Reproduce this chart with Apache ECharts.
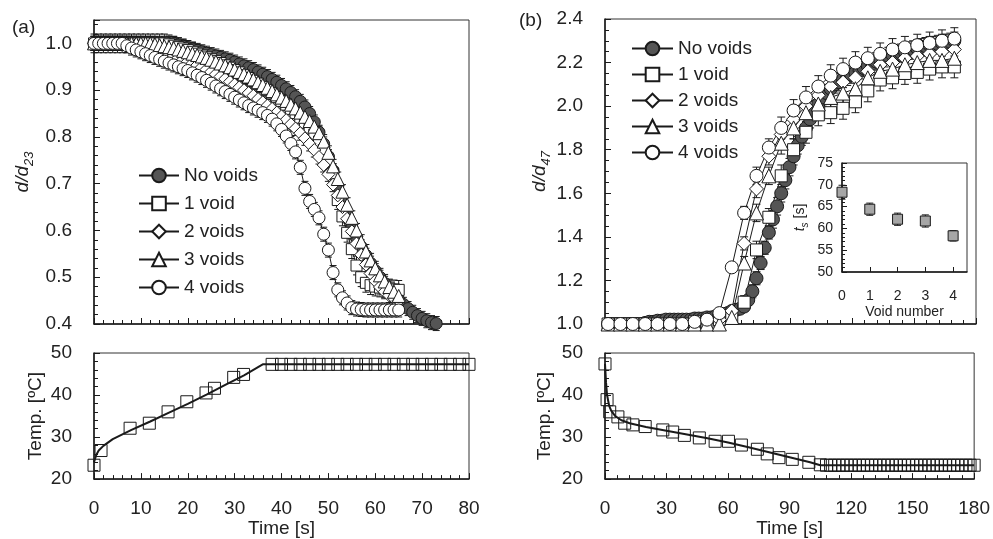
<!DOCTYPE html>
<html>
<head>
<meta charset="utf-8">
<script src="https://cdn.jsdelivr.net/npm/echarts@6/dist/echarts.min.js"></script>
<style>html,body{margin:0;padding:0;background:#fff}#c{width:993px;height:539px}</style>
</head>
<body>
<div id="c"></div>
<script>
// ---------------- DATA ----------------
// Panel (a): d/d23 vs time (1 s steps)
const tA = [0,1,2,3,4,5,6,7,8,9,10,11,12,13,14,15,16,17,18,19,20,21,22,23,24,25,26,27,28,29,30,31,32,33,34,35,36,37,38,39,40,41,42,43,44,45,46,47,48,49,50,51,52,53,54,55,56,57,58,59,60,61,62,63,64,65,66,67,68,69,70,71,72,73];
const noVoidsA = [1.00,1.00,1.00,1.00,1.00,1.00,1.00,1.00,1.00,1.00,
 1.00,1.00,1.00,1.00,1.00,1.00,1.00,1.00,0.997,0.994,
 0.991,0.988,0.985,0.982,0.979,0.976,0.973,0.970,0.967,0.964,
 0.960,0.956,0.952,0.948,0.944,0.939,0.934,0.929,0.923,0.917,
 0.910,0.903,0.895,0.886,0.876,0.864,0.850,0.832,0.810,0.785,
 0.758,0.728,0.695,0.660,0.632,0.607,0.585,0.565,0.547,0.530,
 0.514,0.500,0.487,0.475,0.463,0.452,0.442,0.433,0.425,0.418,
 0.412,0.407,0.403,0.401];
const oneVoidA = [1.00,1.00,1.00,1.00,1.00,1.00,1.00,1.00,1.00,1.00,
 1.00,1.00,1.00,1.00,1.00,1.00,0.998,0.995,0.992,0.989,
 0.986,0.982,0.978,0.974,0.970,0.966,0.962,0.958,0.953,0.948,
 0.943,0.938,0.932,0.926,0.920,0.914,0.907,0.900,0.893,0.885,
 0.877,0.869,0.860,0.851,0.841,0.830,0.818,0.805,0.790,0.772,
 0.750,0.722,0.665,0.630,0.595,0.560,0.525,0.500,0.488,0.483,
 0.480,0.478,0.477,0.476,0.474,0.473];
const twoVoidsA = [1.00,1.00,1.00,1.00,1.00,1.00,1.00,1.00,1.00,0.998,
 0.996,0.993,0.990,0.987,0.984,0.981,0.977,0.973,0.969,0.965,
 0.961,0.957,0.953,0.949,0.944,0.939,0.934,0.929,0.924,0.918,
 0.912,0.906,0.900,0.894,0.888,0.881,0.874,0.867,0.860,0.852,
 0.844,0.836,0.827,0.818,0.808,0.797,0.785,0.772,0.757,0.740,
 0.720,0.698,0.675,0.650,0.625,0.598,0.572,0.548,0.527,0.508,
 0.492,0.479,0.469,0.461,0.455,0.450];
const threeVoidsA = [1.00,1.00,1.00,1.00,1.00,1.00,1.00,1.00,1.00,1.00,
 1.00,1.00,1.00,0.998,0.996,0.994,0.992,0.990,0.987,0.984,
 0.981,0.978,0.975,0.972,0.969,0.965,0.961,0.957,0.953,0.949,
 0.944,0.939,0.934,0.929,0.923,0.917,0.911,0.905,0.898,0.891,
 0.884,0.877,0.869,0.861,0.852,0.843,0.834,0.822,0.808,0.790,
 0.766,0.737,0.710,0.683,0.655,0.627,0.600,0.576,0.555,0.536,
 0.519,0.504,0.491,0.479,0.469,0.460];
const fourVoidsA = [1.00,1.00,1.00,1.00,1.00,1.00,1.00,0.995,0.990,0.986,
 0.982,0.978,0.974,0.970,0.966,0.962,0.958,0.954,0.950,0.946,
 0.942,0.937,0.932,0.927,0.921,0.915,0.909,0.903,0.897,0.891,
 0.885,0.879,0.873,0.867,0.862,0.857,0.852,0.846,0.838,0.828,
 0.816,0.802,0.786,0.768,0.735,0.690,0.662,0.645,0.627,0.592,
 0.558,0.510,0.473,0.456,0.445,0.435,0.432,0.431,0.430,0.430,
 0.430,0.430,0.430,0.430,0.430,0.430];
const errA = [0.015, 0.02, 0.015, 0.015, 0.015];

// Panel (a) temperature
const tempTA = [0,1.5,7.7,11.8,15.8,19.8,23.9,25.7,29.8,31.9,38,40,42,44,46,48,50,52,54,56,58,60,62,64,66,68,70,72,74,76,78,80];
const tempA = [23.3,26.8,32.1,33.3,36.0,38.4,40.5,41.6,44.2,44.9,47.3,47.3,47.3,47.3,47.3,47.3,47.3,47.3,47.3,47.3,47.3,47.3,47.3,47.3,47.3,47.3,47.3,47.3,47.3,47.3,47.3,47.3];
const fitTA = [0,0.5,1,2,4,8,12,16,20,24,28,32,36,80];
const fitA = [24.0,25.8,26.8,27.9,29.5,31.7,33.7,35.8,37.9,40.1,42.4,44.7,47.3,47.3];

// Panel (b): d/d47 vs time
const tB = [1.5,7.5,13.5,19.5,25.5,31.5,37.5,43.5,49.5,55.5,61.5,67.5,73.5,79.5,85.5,91.5,97.5,103.5,109.5,115.5,121.5,127.5,133.5,139.5,145.5,151.5,157.5,163.5,169.5];
const tB2 = [1.5,3.5,5.5,7.5,9.5,11.5,13.5,15.5,17.5,19.5,21.5,23.5,25.5,27.5,29.5,31.5,33.5,35.5,37.5,39.5,41.5,43.5,45.5,47.5,49.5,51.5,53.5,55.5,57.5,59.5,61.5,63.5,65.5,67.5,69.5,71.5,73.5,75.5,77.5,79.5,81.5,83.5,85.5,87.5,89.5,91.5,93.5,95.5,97.5,99.5,101.5,103.5,105.5,107.5,109.5,111.5,113.5,115.5,117.5,119.5,121.5,123.5,125.5,127.5,129.5,131.5,133.5,135.5,137.5,139.5,141.5,143.5,145.5,147.5,149.5,151.5,153.5,155.5,157.5,159.5,161.5,163.5,165.5,167.5,169.5];
const noVoidsB = [1.00,1.00,1.00,1.00,1.00,1.00,1.00,1.00,1.00,
 1.005,1.01,1.01,1.015,1.015,1.02,1.02,1.02,1.02,1.02,
 1.02,1.02,1.025,1.025,1.025,1.03,1.03,1.035,1.04,1.045,
 1.05,1.06,1.065,1.07,1.08,1.11,1.15,1.21,1.28,1.35,
 1.42,1.48,1.54,1.60,1.66,1.72,1.77,1.82,1.86,1.90,
 1.94,1.98,2.01,2.04,2.06,2.08,2.10,2.11,2.125,2.135,
 2.145,2.155,2.165,2.175,2.185,2.195,2.205,2.215,2.22,2.23,
 2.235,2.24,2.245,2.25,2.255,2.26,2.265,2.27,2.275,2.28,
 2.28,2.285,2.29,2.29,2.295,2.30];
const oneVoidB = [1.00,1.00,1.00,1.00,1.00,1.00,1.00,1.01,1.01,1.02,1.03,1.10,1.34,1.49,1.68,1.80,1.88,1.96,1.97,1.99,2.02,2.07,2.12,2.13,2.15,2.155,2.17,2.18,2.18];
const twoVoidsB = [1.00,1.00,1.00,1.00,1.00,1.00,1.00,1.00,1.01,1.02,1.06,1.37,1.62,1.77,1.87,1.94,2.00,2.05,2.09,2.11,2.13,2.16,2.19,2.20,2.22,2.23,2.24,2.25,2.26];
const threeVoidsB = [1.00,1.00,1.00,1.00,1.00,1.00,1.00,1.00,1.00,1.00,1.03,1.28,1.51,1.68,1.83,1.90,1.97,2.01,2.04,2.06,2.08,2.13,2.16,2.17,2.19,2.20,2.21,2.21,2.22];
const fourVoidsB = [1.00,1.00,1.00,1.00,1.00,1.00,1.00,1.01,1.02,1.05,1.26,1.51,1.68,1.81,1.90,1.98,2.04,2.09,2.14,2.17,2.20,2.22,2.24,2.26,2.27,2.28,2.29,2.30,2.31];
const errB2 = [0.01,0.01,0.01,0.01,0.01,0.01,0.01,0.01,0.01,0.01,
 0.01,0.01,0.01,0.01,0.01,0.01,0.01,0.01,0.01,0.01,
 0.01,0.01,0.01,0.01,0.01,0.01,0.01,0.01,0.01,0.01,
 0.02,0.02,0.02,0.02,0.02,0.03,0.03,0.03,0.03,0.03,
 0.04,0.04,0.04,0.04,0.04,0.04,0.04,0.04,0.04,0.04,
 0.04,0.04,0.04,0.04,0.04,0.04,0.04,0.04,0.04,0.04,
 0.04,0.04,0.04,0.04,0.04,0.04,0.04,0.04,0.04,0.04,
 0.04,0.04,0.04,0.04,0.04,0.04,0.04,0.04,0.04,0.04,
 0.04,0.04,0.04,0.04,0.04];
const errB6 = [0.01,0.01,0.01,0.01,0.01,0.01,0.01,0.01,0.01,0.01,0.015,0.03,0.04,0.04,0.05,0.05,0.05,0.05,0.05,0.05,0.05,0.05,0.05,0.05,0.05,0.05,0.05,0.05,0.05];

// Panel (b) temperature
const tempTB = [0,1,2.3,6.3,9.6,13.6,19.6,28.2,33,38.7,46,53.7,60.2,66.5,74.3,79.1,84.8,91.3,99.4,105,108,110,112,114,116,118,120,122,124,126,128,130,132,134,136,138,140,142,144,146,148,150,152,154,156,158,160,162,164,166,168,170,172,174,176,178,180];
const tempB = [47.4,38.9,36.0,34.8,33.3,32.9,32.5,31.7,31.2,30.4,29.8,29.0,29.0,28.1,27.1,26.0,25.1,24.7,24.0,23.4,23.3,23.3,23.3,23.3,23.3,23.3,23.3,23.3,23.3,23.3,23.3,23.3,23.3,23.3,23.3,23.3,23.3,23.3,23.3,23.3,23.3,23.3,23.3,23.3,23.3,23.3,23.3,23.3,23.3,23.3,23.3,23.3,23.3,23.3,23.3,23.3,23.3];
const fitTB = [0,0.5,1,2,3,5,8,12,20,30,40,50,60,70,80,90,100,105,180];
const fitB = [47.4,43.0,40.0,37.5,36.3,35.0,34.0,33.3,32.4,31.5,30.6,29.7,28.7,27.6,26.4,25.2,24.0,23.3,23.3];

// Inset: onset time vs void number
const voidNum = [0,1,2,3,4];
const tsVals = [68.3,64.4,62.1,61.7,58.3];
const tsErr = [1.6,1.4,1.4,1.4,1.2];

const seriesNames = ['No voids','1 void','2 voids','3 voids','4 voids'];

// ---------------- STYLE / BUILD ----------------
const FONT = '"Liberation Sans", Arial, Helvetica, sans-serif';
const INK = '#1a1a1a';
const TXT = '#222';
const symbols = ['circle','rect','diamond','triangle','circle'];
const fills = ['#555555','#ffffff','#ffffff','#ffffff','#ffffff'];
const sizesA = [12,11,13,13,12];
const sizesB = [13,12,14,14,13];

function zip(ts, vs) { return vs.map((v, i) => [ts[i], v]); }
function zipErr(ts, vs, es) { return vs.map((v, i) => [ts[i], v, Array.isArray(es) ? es[i] : es]); }

function errRender(capW, color) {
  return function (params, api) {
    const x = api.value(0), y = api.value(1), e = api.value(2);
    const p1 = api.coord([x, y - e]), p2 = api.coord([x, y + e]);
    const st = { stroke: color || INK, lineWidth: 1 };
    return { type: 'group', children: [
      { type: 'line', shape: { x1: p1[0], y1: p1[1], x2: p2[0], y2: p2[1] }, style: st },
      { type: 'line', shape: { x1: p1[0] - capW / 2, y1: p1[1], x2: p1[0] + capW / 2, y2: p1[1] }, style: st },
      { type: 'line', shape: { x1: p2[0] - capW / 2, y1: p2[1], x2: p2[0] + capW / 2, y2: p2[1] }, style: st }
    ]};
  };
}

let errCount = 0;
function errSeries(data, gi, capW) {
  errCount += 1;
  return { type: 'custom', name: 'err' + gi + '_' + errCount, xAxisIndex: gi, yAxisIndex: gi,
    coordinateSystem: 'cartesian2d', encode: { x: 0, y: 1 }, renderItem: errRender(capW),
    data: data, silent: true, clip: false, z: 2 };
}
function lineSeries(name, data, gi, sym, size, fill, lw) {
  return { type: 'line', name: name, xAxisIndex: gi, yAxisIndex: gi, data: data,
    symbol: sym, symbolSize: size, showSymbol: true, clip: false, z: 3,
    lineStyle: { color: INK, width: lw || 1 },
    itemStyle: { color: fill, borderColor: INK, borderWidth: 1 },
    emphasis: { disabled: true } };
}

const series = [];
const A = [noVoidsA, oneVoidA, twoVoidsA, threeVoidsA, fourVoidsA];
A.forEach((vals, k) => {
  series.push(errSeries(zipErr(tA, vals, errA[k]), 0, 7));
  series.push(lineSeries(seriesNames[k], zip(tA, vals), 0, symbols[k], sizesA[k], fills[k]));
});
series.push(errSeries(zipErr(tB2, noVoidsB, errB2), 2, 8));
series.push(lineSeries(seriesNames[0], zip(tB2, noVoidsB), 2, symbols[0], sizesB[0], fills[0]));
[oneVoidB, twoVoidsB, threeVoidsB, fourVoidsB].forEach((vals, j) => {
  const k = j + 1;
  series.push(errSeries(zipErr(tB, vals, errB6), 2, 8));
  series.push(lineSeries(seriesNames[k], zip(tB, vals), 2, symbols[k], sizesB[k], fills[k]));
});
// temperature
series.push({ type: 'line', name: 'fitA', xAxisIndex: 1, yAxisIndex: 1, data: zip(fitTA, fitA), showSymbol: false, symbol: 'none', clip: false, lineStyle: { color: INK, width: 2 }, z: 4 });
series.push({ type: 'line', name: 'tempA', xAxisIndex: 1, yAxisIndex: 1, data: zip(tempTA, tempA), symbol: 'rect', symbolSize: 12, clip: false, lineStyle: { width: 0, opacity: 0 }, itemStyle: { color: 'rgba(255,255,255,0)', borderColor: INK, borderWidth: 1 }, z: 3 });
series.push({ type: 'line', name: 'fitB', xAxisIndex: 3, yAxisIndex: 3, data: zip(fitTB, fitB), showSymbol: false, symbol: 'none', clip: false, lineStyle: { color: INK, width: 2 }, z: 4 });
series.push({ type: 'line', name: 'tempB', xAxisIndex: 3, yAxisIndex: 3, data: zip(tempTB, tempB), symbol: 'rect', symbolSize: 12, clip: false, lineStyle: { width: 0, opacity: 0 }, itemStyle: { color: 'rgba(255,255,255,0)', borderColor: INK, borderWidth: 1 }, z: 3 });
// inset
series.push({ type: 'custom', name: 'insetErr', xAxisIndex: 4, yAxisIndex: 4, coordinateSystem: 'cartesian2d', encode: { x: 0, y: 1 }, renderItem: errRender(7), data: zipErr(voidNum, tsVals, tsErr), silent: true, clip: false, z: 12 });
series.push({ type: 'scatter', name: 'inset', xAxisIndex: 4, yAxisIndex: 4, data: zip(voidNum, tsVals), symbol: 'rect', symbolSize: 10, clip: false, itemStyle: { color: '#a6a6a6', borderColor: INK, borderWidth: 1, opacity: 1 }, z: 13 });

function xAx(gi, min, max, interval, split, showLabel, name, extra) {
  return Object.assign({
    gridIndex: gi, type: 'value', min: min, max: max, interval: interval,
    axisLine: { onZero: false, lineStyle: { color: INK, width: 1.5 } },
    axisTick: { inside: true, length: 6, lineStyle: { color: INK, width: 1 } },
    minorTick: { show: split > 0, splitNumber: split || 5, length: 4, lineStyle: { color: INK, width: 1 } },
    splitLine: { show: false }, minorSplitLine: { show: false },
    axisLabel: { show: showLabel, margin: 20, fontSize: 19, fontFamily: FONT, color: TXT },
    name: name || '', nameLocation: 'middle', nameGap: 36,
    nameTextStyle: { fontSize: 19, fontFamily: FONT, color: TXT }
  }, extra || {});
}
function yAx(gi, min, max, interval, split, fmt, name, gap, rich, extra) {
  return Object.assign({
    gridIndex: gi, type: 'value', min: min, max: max, interval: interval,
    axisLine: { onZero: false, lineStyle: { color: INK, width: 1.5 } },
    axisTick: { inside: true, length: 6, lineStyle: { color: INK, width: 1 } },
    minorTick: { show: true, splitNumber: split, length: 4, lineStyle: { color: INK, width: 1 } },
    splitLine: { show: false }, minorSplitLine: { show: false },
    axisLabel: { margin: 22, fontSize: 19, fontFamily: FONT, color: TXT, formatter: fmt, showMaxLabel: true },
    name: name, nameLocation: 'middle', nameRotate: 90, nameGap: gap,
    nameTextStyle: Object.assign({ fontSize: 19, fontFamily: FONT, color: TXT }, rich ? { rich: rich } : {})
  }, extra || {});
}

const richD = {
  a: { fontSize: 19, fontStyle: 'italic', fontFamily: FONT, color: TXT, lineHeight: 26 },
  b: { fontSize: 13, fontStyle: 'italic', fontFamily: FONT, color: TXT, lineHeight: 13, verticalAlign: 'bottom' }
};
const richT = {
  a: { fontSize: 14, fontStyle: 'italic', fontFamily: FONT, color: TXT, lineHeight: 20 },
  b: { fontSize: 10, fontStyle: 'italic', fontFamily: FONT, color: TXT, lineHeight: 10, verticalAlign: 'bottom' },
  c: { fontSize: 14, fontFamily: FONT, color: TXT, lineHeight: 20 }
};
const f1 = v => v.toFixed(1);
const f0 = v => String(Math.round(v));

const gridBase = { show: true, borderColor: '#333', borderWidth: 1, backgroundColor: 'rgba(0,0,0,0)', containLabel: false };

const option = {
  animation: false,
  backgroundColor: '#fff',
  textStyle: { fontFamily: FONT },
  grid: [
    Object.assign({ left: 94, top: 20, width: 375, height: 304 }, gridBase),
    Object.assign({ left: 94, top: 353, width: 375, height: 129 }, gridBase),
    Object.assign({ left: 605, top: 19, width: 371, height: 305 }, gridBase),
    Object.assign({ left: 605, top: 353, width: 371, height: 129 }, gridBase),
    Object.assign({ left: 842, top: 163, width: 125, height: 109, z: 10 }, gridBase, { backgroundColor: '#fff' })
  ],
  xAxis: [
    xAx(0, 0, 80, 10, 5, false),
    xAx(1, 0, 80, 10, 5, true, 'Time [s]'),
    xAx(2, 0, 180, 30, 5, false),
    xAx(3, 0, 180, 30, 5, true, 'Time [s]'),
    xAx(4, 0, 4.5, 1, 0, true, 'Void number', {
      axisTick: { inside: true, length: 5, lineStyle: { color: INK } },
      axisLabel: { show: true, margin: 17, fontSize: 14, fontFamily: FONT, color: TXT, showMaxLabel: false },
      axisLine: { onZero: false, lineStyle: { color: INK, width: 1.5 } },
      nameGap: 33, nameTextStyle: { fontSize: 14, fontFamily: FONT, color: TXT }, z: 11 })
  ],
  yAxis: [
    yAx(0, 0.4, 1.05, 0.1, 5, f1, '{a|d/d}{b|23}', 58, richD, { axisLabel: { margin: 22, fontSize: 19, fontFamily: FONT, color: TXT, formatter: f1, showMaxLabel: false } }),
    yAx(1, 20, 50, 10, 5, f0, 'Temp. [ºC]', 49),
    yAx(2, 1.0, 2.4, 0.2, 4, f1, '{a|d/d}{b|47}', 50, richD),
    yAx(3, 20, 50, 10, 5, f0, 'Temp. [ºC]', 51),
    yAx(4, 50, 75, 5, 5, f0, '{a|t}{b|s}{c| [s]}', 32, richT, {
      axisLabel: { margin: 9, fontSize: 14, fontFamily: FONT, color: TXT, formatter: f0 },
      axisTick: { inside: true, length: 5, lineStyle: { color: INK } },
      minorTick: { show: true, splitNumber: 5, length: 3, lineStyle: { color: INK } }, z: 11 })
  ],
  legend: [
    { data: seriesNames, orient: 'vertical', left: 138, top: 166, padding: 0, itemWidth: 40, itemHeight: 17, itemGap: 9,
      textStyle: { fontSize: 19, fontFamily: FONT, color: TXT }, selectedMode: false },
    { data: seriesNames, orient: 'vertical', left: 631, top: 39, padding: 0, itemWidth: 41, itemHeight: 17, itemGap: 7,
      textStyle: { fontSize: 19, fontFamily: FONT, color: TXT }, selectedMode: false }
  ],
  graphic: [
    { type: 'text', left: 12, top: 18, style: { text: '(a)', fontSize: 19, fontFamily: FONT, fill: TXT } },
    { type: 'text', left: 519, top: 11, style: { text: '(b)', fontSize: 19, fontFamily: FONT, fill: TXT } }
  ],
  series: series
};

const chart = echarts.init(document.getElementById('c'), null, { renderer: 'canvas' });
chart.setOption(option);
</script>
</body>
</html>
